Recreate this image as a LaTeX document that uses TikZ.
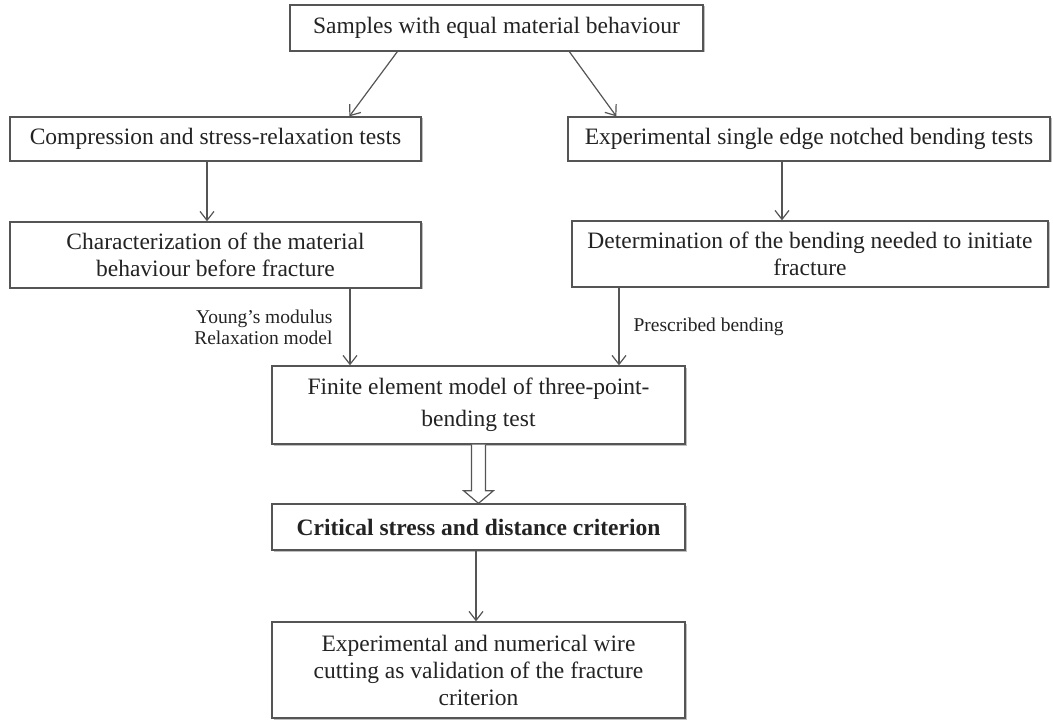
\documentclass[tikz,border=0pt]{standalone}
\usepackage{fontspec}
\setmainfont{Liberation Serif}
\usetikzlibrary{arrows.meta,shadows}
\definecolor{boxline}{RGB}{85,85,85}
\definecolor{inktext}{RGB}{35,35,35}
\begin{document}
\begin{tikzpicture}[x=1pt,y=-1pt,
    block/.style={draw=boxline,line width=1.3pt,fill=white,inner sep=0pt,
      align=center,text=inktext,font=\fontsize{23.5}{27}\selectfont,
      drop shadow={shadow xshift=1.5pt,shadow yshift=-1.5pt,opacity=0.25,fill=black}},
    note/.style={inner sep=0pt,text=inktext,font=\fontsize{19.5}{21}\selectfont},
    arr/.style={draw=boxline,line width=1.2pt,-{Straight Barb[length=9pt,width=14pt]}}]
  \useasboundingbox (0,0) rectangle (1053,722);
  \path
    (496.5,28) node[block,minimum width=413pt,minimum height=46pt] (top)
      {Samples with equal material behaviour}
    (215.5,139) node[block,minimum width=411pt,minimum height=44pt] (comp)
      {Compression and stress-relaxation tests}
    (809,139) node[block,minimum width=482pt,minimum height=44pt] (senb)
      {Experimental single edge notched bending tests}
    (215.5,255) node[block,minimum width=411pt,minimum height=66pt] (charac)
      {Characterization of the material\\behaviour before fracture}
    (810,254) node[block,minimum width=476pt,minimum height=66pt] (determ)
      {Determination of the bending needed to initiate\\fracture}
    (478.5,405) node[block,minimum width=413pt,minimum height=78pt] (fe)
      {Finite element model of three-point-\\[5pt]bending test}
    (478.5,527) node[block,minimum width=413pt,minimum height=46pt] (crit)
      {\bfseries Critical stress and distance criterion}
    (478.5,670) node[block,minimum width=413pt,minimum height=96pt] (valid)
      {Experimental and numerical wire\\cutting as validation of the fracture\\criterion};
  \begin{scope}[arr]
    \draw ([xshift=108pt]top.south west) to ([xshift=340pt]comp.north west);
    \draw ([xshift=280pt]top.south west) to ([xshift=49pt]senb.north west);
    \draw ([xshift=-8.5pt]comp.south) to ([xshift=-8.5pt]charac.north);
    \draw ([xshift=-27pt]senb.south) to ([xshift=-28pt]determ.north);
    \draw ([xshift=134.5pt]charac.south) to
      node[note,midway,left=17pt,align=right] {Young's modulus\\Relaxation model}
      ([xshift=134.5pt]charac.south |- fe.north);
    \draw ([xshift=-191pt]determ.south) to
      node[note,midway,right=14pt] {Prescribed bending}
      ([xshift=-191pt]determ.south |- fe.north);
    \draw ([xshift=-2.5pt]crit.south) to ([xshift=-2.5pt]valid.north);
  \end{scope}
  % hollow arrow
  \draw[boxline,line width=1.2pt,fill=white]
    ([xshift=-7pt]fe.south) -- ([xshift=-7pt,yshift=-46pt]fe.south)
    -- ([xshift=-15pt,yshift=-46pt]fe.south) -- (crit.north)
    -- ([xshift=15pt,yshift=-46pt]fe.south) -- ([xshift=7pt,yshift=-46pt]fe.south)
    -- ([xshift=7pt]fe.south);
\end{tikzpicture}
\end{document}
